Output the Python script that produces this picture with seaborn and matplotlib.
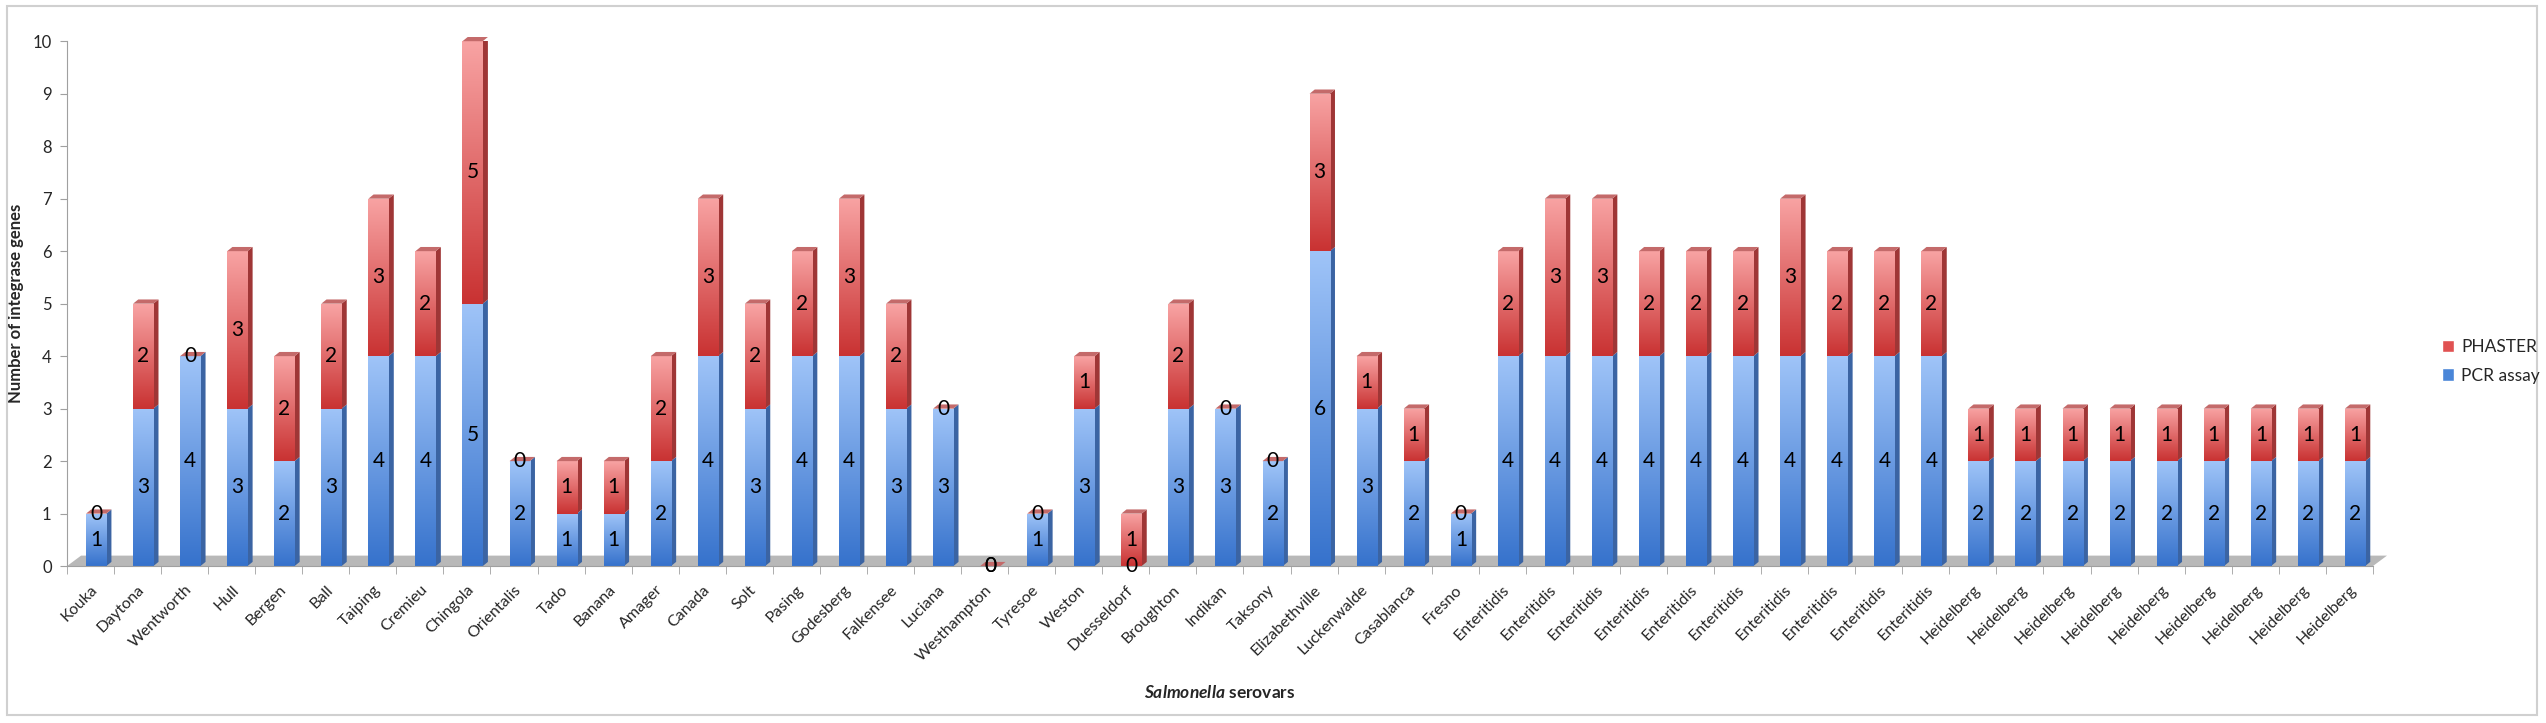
import numpy as np
import matplotlib
matplotlib.use("Agg")
import matplotlib.pyplot as plt
from matplotlib.colors import LinearSegmentedColormap
from matplotlib.patches import Polygon, Rectangle, Patch
import seaborn as sns

# data
serovars = ["Kouka", "Daytona", "Wentworth", "Hull", "Bergen", "Ball", "Taiping", "Cremieu",
            "Chingola", "Orientalis", "Tado", "Banana", "Amager", "Canada", "Solt", "Pasing",
            "Godesberg", "Falkensee", "Luciana", "Westhampton", "Tyresoe", "Weston",
            "Duesseldorf", "Broughton", "Indikan", "Taksony", "Elizabethville", "Luckenwalde",
            "Casablanca", "Fresno"] + ["Enteritidis"] * 10 + ["Heidelberg"] * 9
pcr_assay = [1, 3, 4, 3, 2, 3, 4, 4, 5, 2, 1, 1, 2, 4, 3, 4, 4, 3, 3, 0, 1, 3, 0, 3, 3, 2, 6, 3, 2, 1,
             4, 4, 4, 4, 4, 4, 4, 4, 4, 4,
             2, 2, 2, 2, 2, 2, 2, 2, 2]
phaster = [0, 2, 0, 3, 2, 2, 3, 2, 5, 0, 1, 1, 2, 3, 2, 2, 3, 2, 0, 0, 0, 1, 1, 2, 0, 0, 3, 1, 1, 0,
           2, 3, 3, 2, 2, 2, 3, 2, 2, 2,
           1, 1, 1, 1, 1, 1, 1, 1, 1]

sns.set_style("white")
plt.rcParams["font.family"] = ["Lato", "DejaVu Sans"]
plt.rcParams["mathtext.fontset"] = "custom"
plt.rcParams["mathtext.it"] = "Lato:italic:bold"
plt.rcParams["mathtext.rm"] = "Lato:bold"

fig = plt.figure(figsize=(25.46, 7.23), dpi=100)
ax = fig.add_axes([0.0263, 0.217, 0.9057, 0.726])

idx = np.arange(len(serovars))
sns.barplot(x=idx, y=pcr_assay, color="#4a86d8", width=0.43, errorbar=None, ax=ax)
sns.barplot(x=idx, y=phaster, bottom=np.array(pcr_assay), color="#e05252", width=0.43,
            errorbar=None, ax=ax)
if ax.get_legend() is not None:
    ax.get_legend().remove()

# fake 3d look: gradient front, darker side, cap on top
blue_cmap = LinearSegmentedColormap.from_list("pcr", ["#3672cc", "#9fc4f8"])
red_cmap = LinearSegmentedColormap.from_list("phaster", ["#c93232", "#f8a3a3"])
grad = np.linspace(0, 1, 128).reshape(-1, 1)
dx, dy = 0.11, 0.08
styles = [(ax.containers[0], blue_cmap, "#3b64a3", None),
          (ax.containers[1], red_cmap, "#9f3636", "#c46a6a")]
for cont, cmap, side_col, cap_col in styles:
    for p in cont.patches:
        p.set_x(p.get_x() + 0.12)
        p.set_edgecolor("none")
        x0, y0, w, h = p.get_x(), p.get_y(), p.get_width(), p.get_height()
        x1, y1 = x0 + w, y0 + h
        if h > 0:
            im = ax.imshow(grad, extent=(x0, x1, y0, y1), origin="lower", cmap=cmap,
                           aspect="auto", zorder=p.get_zorder() + 0.1, interpolation="bilinear")
            im.set_clip_path(p)
            ax.add_patch(Polygon([(x1, y0), (x1 + dx, y0 + dy), (x1 + dx, y1 + dy), (x1, y1)],
                                 closed=True, fc=side_col, ec="none", zorder=p.get_zorder()))
        if cap_col is not None:
            ax.add_patch(Polygon([(x0, y1), (x1, y1), (x1 + dx, y1 + dy), (x0 + dx, y1 + dy)],
                                 closed=True, fc=cap_col, ec="none", zorder=p.get_zorder() + 0.2,
                                 clip_on=False))

ax.bar_label(ax.containers[0], labels=[str(v) for v in pcr_assay], label_type="center",
             fontsize=15, color="black", zorder=5)
ax.bar_label(ax.containers[1], labels=[str(v) for v in phaster], label_type="center",
             fontsize=15, color="black", zorder=5)

# grey floor
n = len(serovars)
ax.add_patch(Polygon([(-0.5, 0), (n - 0.5, 0), (n - 0.5 + 0.3, 0.2), (-0.5 + 0.3, 0.2)],
                     closed=True, fc="#b8b8b8", ec="none", zorder=0.5, clip_on=False))

ax.set_xlim(-0.5, n - 0.5)
ax.set_ylim(0, 10)
ax.set_yticks(range(0, 11))
ax.set_xticks(idx)
ax.set_xticklabels(serovars, rotation=45, ha="right", rotation_mode="anchor", fontsize=11.5)
ax.set_xticks(np.arange(-0.5, n, 1), minor=True)
ax.tick_params(axis="x", which="major", length=0, pad=12)
ax.tick_params(axis="x", which="minor", length=6, color="#a0a0a0", direction="out")
ax.tick_params(axis="y", length=5, color="#a0a0a0", labelsize=12, direction="out", pad=6)
ax.xaxis.set_ticks_position("bottom")
ax.yaxis.set_ticks_position("left")
for s in ["top", "right"]:
    ax.spines[s].set_visible(False)
ax.spines["left"].set_color("#a0a0a0")
ax.spines["bottom"].set_color("#a0a0a0")
ax.set_xlabel("")
ax.set_ylabel("Number of integrase genes", fontsize=12, fontweight="bold", labelpad=6)

fig.text(0.4792, 0.0415, r"$\mathit{Salmonella}$ serovars", fontsize=12.5, fontweight="bold",
         ha="center", va="center")

handles = [Patch(fc="#e05252", label="PHASTER"), Patch(fc="#4a86d8", label="PCR assay")]
fig.legend(handles=handles, loc="center left", bbox_to_anchor=(0.953, 0.50), frameon=False,
           fontsize=12.5, handlelength=0.7, handleheight=0.7, handletextpad=0.4, labelspacing=0.7)

fig.add_artist(Rectangle((0.0027, 0.011), 0.9938, 0.981, transform=fig.transFigure,
                         fill=False, ec="#d0d0d0", lw=1.5))

fig.savefig("out.png", dpi=100)
